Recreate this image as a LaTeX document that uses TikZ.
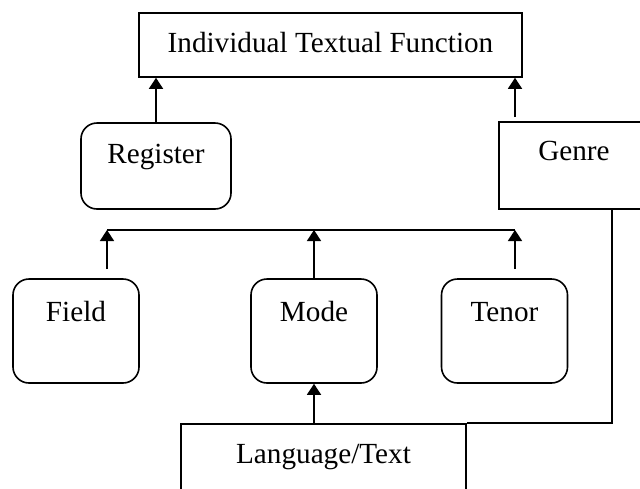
\documentclass[tikz,border=0pt]{standalone}
\usepackage{fontspec}
\setmainfont{Liberation Serif}
\usetikzlibrary{arrows.meta}
\tikzset{
  box/.style={draw, inner sep=0pt, text height=20pt},
  rbox/.style={box, rounded corners=16pt},
}
\begin{document}
\begin{tikzpicture}[x=1pt, y=-1pt, line width=1.6pt, font=\fontsize{29.2pt}{35pt}\selectfont, >={Triangle[length=11pt,width=14pt]}]
	\useasboundingbox (0,0) rectangle (640,488);
	\node[box, minimum width=383pt, minimum height=64pt, text depth=6pt] (itf) at (330.5,45) {Individual Textual Function};
	\node[rbox, minimum width=150pt, minimum height=86pt, text depth=26pt] (reg) at (156,166) {Register};
	\node[box, minimum width=150pt, minimum height=87pt, text depth=31pt] (genre) at (574,165.5) {Genre};
	\foreach \n/\t/\x in {field/Field/76, mode/Mode/314, tenor/Tenor/504.5}
	\node[rbox, minimum width=126pt, minimum height=104pt, text depth=40pt] (\n) at (\x,331) {\t};
	\node[box, minimum width=285pt, minimum height=100pt, text depth=42pt] (lang) at (323.5,474) {Language/Text};
	% bus line under Register
	\coordinate (busL) at (107,230);
	\coordinate (busR) at (515,230);
	\coordinate (gtop) at (515,117);
	\draw (busL) -- (busR);
	\foreach \n/\c in {field/busL, tenor/busR}
	\draw[->] (\n.north -| \c) ++(0,-9) -- (\c);
	\draw[->] (mode.north) -- (mode.north |- busL);
	\draw[->] (lang.north -| mode.south) -- (mode.south);
	\draw[->] (reg.north) -- (reg.north |- itf.south);
	\draw[->] (gtop) -- (gtop |- itf.south);
	\draw ([xshift=114pt]genre.south west) |- (lang.north east);
\end{tikzpicture}
\end{document}
